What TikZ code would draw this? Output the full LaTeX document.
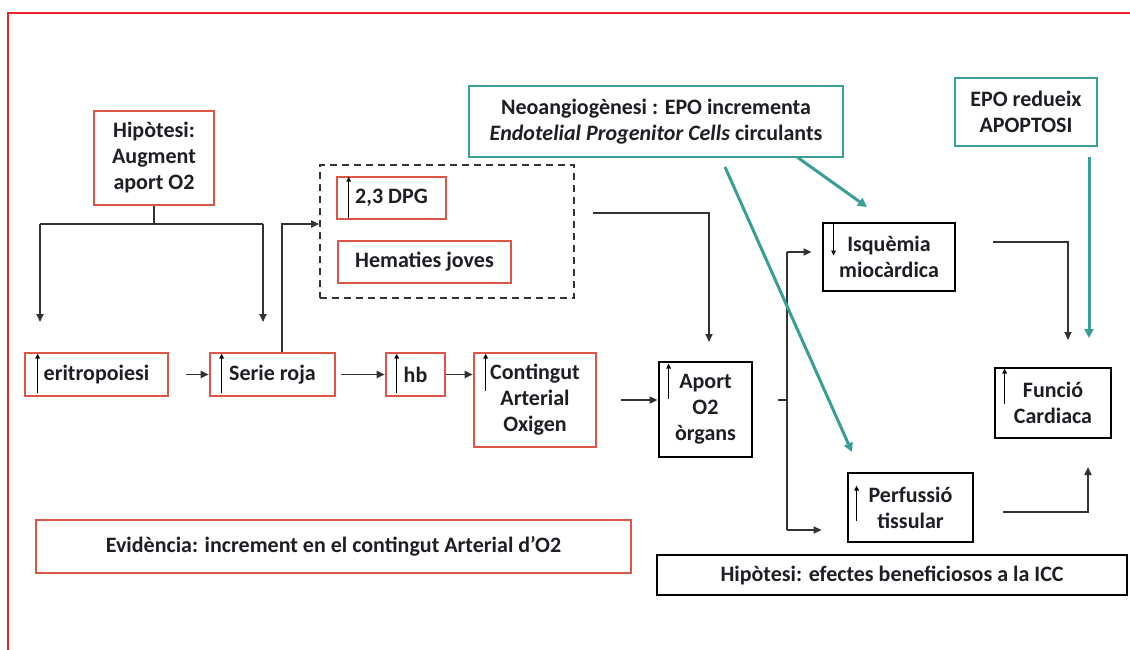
\documentclass[tikz,border=0pt]{standalone}
\usepackage{fontspec}
\setmainfont{Carlito}
\usetikzlibrary{arrows.meta}
\definecolor{framered}{HTML}{E8232A}
\definecolor{boxred}{HTML}{DE5548}
\definecolor{tealc}{HTML}{3A9E98}
\definecolor{ink}{HTML}{1E1E24}
\definecolor{wire}{HTML}{333333}
\begin{document}
\begin{tikzpicture}[x=1pt,y=-1pt,
  every node/.style={font=\fontsize{22}{26}\selectfont\bfseries, text=ink, align=center, inner sep=0pt},
  redbox/.style={draw=boxred, line width=2.6pt},
  blackbox/.style={draw=black, line width=2.8pt},
  tealbox/.style={draw=tealc, line width=2.8pt},
  wireline/.style={draw=wire, line width=1.7pt},
  wirearrow/.style={wireline, -{Triangle[length=8pt,width=7pt]}},
  tealarrow/.style={draw=tealc, line width=3pt, -{Triangle[length=9pt,width=9pt]}},
  tick/.style={draw=black, line width=1.3pt, -{Triangle[length=5pt,width=4.5pt]}},
]
\useasboundingbox (0,0) rectangle (1130,649);
\fill[white] (0,0) rectangle (1130,649);
% outer frame, running past the right and bottom edges
\begin{scope}
  \clip (0,0) rectangle (1130,649);
  \draw[framered, line width=2pt] (8,13) rectangle (1140,660);
\end{scope}

% red boxes
\node[redbox, minimum width=120pt, minimum height=94pt] (hyp) at (154,158) {Hipòtesi:\\Augment\\aport O2};
\node[redbox, minimum width=143pt, minimum height=43pt] (eri) at (96.5,374.5) {eritropoiesi};
\node[redbox, minimum width=125pt, minimum height=43pt] (ser) at (272.5,374.5) {Serie roja};
\node[redbox, minimum width=59pt, minimum height=43pt] (hb) at (415.5,374.5) {hb};
\node[redbox, minimum width=122pt, minimum height=94pt] (cont) at (535,400) {Contingut\\Arterial\\Oxigen};
\node[redbox, minimum width=109pt, minimum height=42pt] (dpg) at (391.5,198) {2,3 DPG};
\node[redbox, minimum width=173pt, minimum height=42pt] (hem) at (424.5,262) {Hematies joves};
\node[redbox, minimum width=595pt, minimum height=53pt] (evid) at (333.5,546.5) {Evidència: increment en el contingut Arterial d’O2};
\node[draw=wire, line width=1.6pt, dash pattern=on 7pt off 5pt, minimum width=254pt, minimum height=133pt] (grp) at (447,231.5) {};

% black boxes
\node[blackbox, minimum width=93pt, minimum height=95pt] (aport) at (705.5,409.5) {Aport\\O2\\òrgans};
\node[blackbox, minimum width=132pt, minimum height=68pt] (isq) at (889,257) {Isquèmia\\miocàrdica};
\node[blackbox, minimum width=125pt, minimum height=69pt] (perf) at (910.5,507.5) {Perfussió\\tissular};
\node[blackbox, minimum width=116pt, minimum height=70pt] (func) at (1053,403) {Funció\\Cardiaca};
\node[blackbox, minimum width=470pt, minimum height=40pt] (icc) at (892,575) {Hipòtesi: efectes beneficiosos a la ICC};

% teal boxes
\node[tealbox, minimum width=374pt, minimum height=71pt] (neo) at (656,121.5) {Neoangiogènesi : EPO incrementa\\\textit{Endotelial Progenitor Cells} circulants};
\node[tealbox, minimum width=142pt, minimum height=68pt] (apo) at (1026,112) {EPO redueix\\APOPTOSI};

% increase / decrease marks inside the boxes
\draw[tick] ([xshift=14pt,yshift=4pt]eri.south west) -- ([xshift=14pt,yshift=-2pt]eri.north west);
\draw[tick] ([xshift=13pt,yshift=4pt]ser.south west) -- ([xshift=13pt,yshift=-2pt]ser.north west);
\draw[tick] ([xshift=12pt,yshift=4pt]hb.south west) -- ([xshift=12pt,yshift=-2pt]hb.north west);
\draw[tick] ([xshift=13pt,yshift=-39pt]cont.north west) -- ([xshift=13pt,yshift=-2pt]cont.north west);
\draw[tick] ([xshift=13pt,yshift=2pt]dpg.south west) -- ([xshift=13pt,yshift=-1pt]dpg.north west);
\draw[tick] ([xshift=11pt,yshift=-38pt]aport.north west) -- ([xshift=11pt,yshift=-3pt]aport.north west);
\draw[tick] ([xshift=12pt,yshift=-2pt]isq.north west) -- ([xshift=12pt,yshift=-34pt]isq.north west);
\draw[tick] ([xshift=11pt,yshift=-37pt]func.north west) -- ([xshift=11pt,yshift=-2pt]func.north west);
\draw[tick] ([xshift=10pt,yshift=-49pt]perf.north west) -- ([xshift=10pt,yshift=-14pt]perf.north west);

% hypothesis splits towards erythropoiesis and red series
\coordinate (split) at (hyp.south |- 0,224);
\coordinate (splitL) at (40,224);
\coordinate (splitR) at (263,224);
\draw[wireline] (hyp.south) -- (split);
\draw[wireline] (splitL) -- (splitR);
\draw[wirearrow] (splitL) -- (40,322);
\draw[wirearrow] (splitR) -- (263,322);

% main chain
\draw[wirearrow] ([xshift=17pt]eri.east) -- (ser.west);
\draw[wirearrow] ([xshift=5pt]ser.east) -- (hb.west);
\draw[wirearrow] (hb.east) -- (hb.east -| cont.west);
\draw[wirearrow] ([xshift=24pt]cont.east) -- (cont.east -| aport.west);

% red series feeds the dashed group
\draw[wirearrow] (ser.north -| 282,0) -- (282,224) -- (grp.west |- 0,224);

% dashed group feeds organ O2 supply
\coordinate (grpout) at (593,213);
\draw[wirearrow] (grpout) -- (709,213) -- (709,342);

% organ supply branches
\coordinate (bus) at (787,400);
\draw[wireline] ([xshift=25pt]aport.east |- bus) -- (bus);
\draw[wireline] (787,252) -- (787,530);
\draw[wirearrow] (787,252) -- ([xshift=-10pt]isq.west |- 0,252);
\draw[wirearrow] (787,530) -- ([xshift=-25pt]perf.west |- 0,530);

% into cardiac function
\draw[wirearrow] ([xshift=37pt]isq.east |- 0,242) -- (1068,242) -- (1068,340);
\draw[wirearrow] ([xshift=29pt]perf.east |- 0,512) -- (1088,512) -- (1088,467);

% EPO effects
\draw[tealarrow] (797,157) -- (867,207);
\draw[tealarrow] (725,167) -- (852,452);
\draw[tealarrow] (1089,157) -- (1089,338);
\end{tikzpicture}
\end{document}
